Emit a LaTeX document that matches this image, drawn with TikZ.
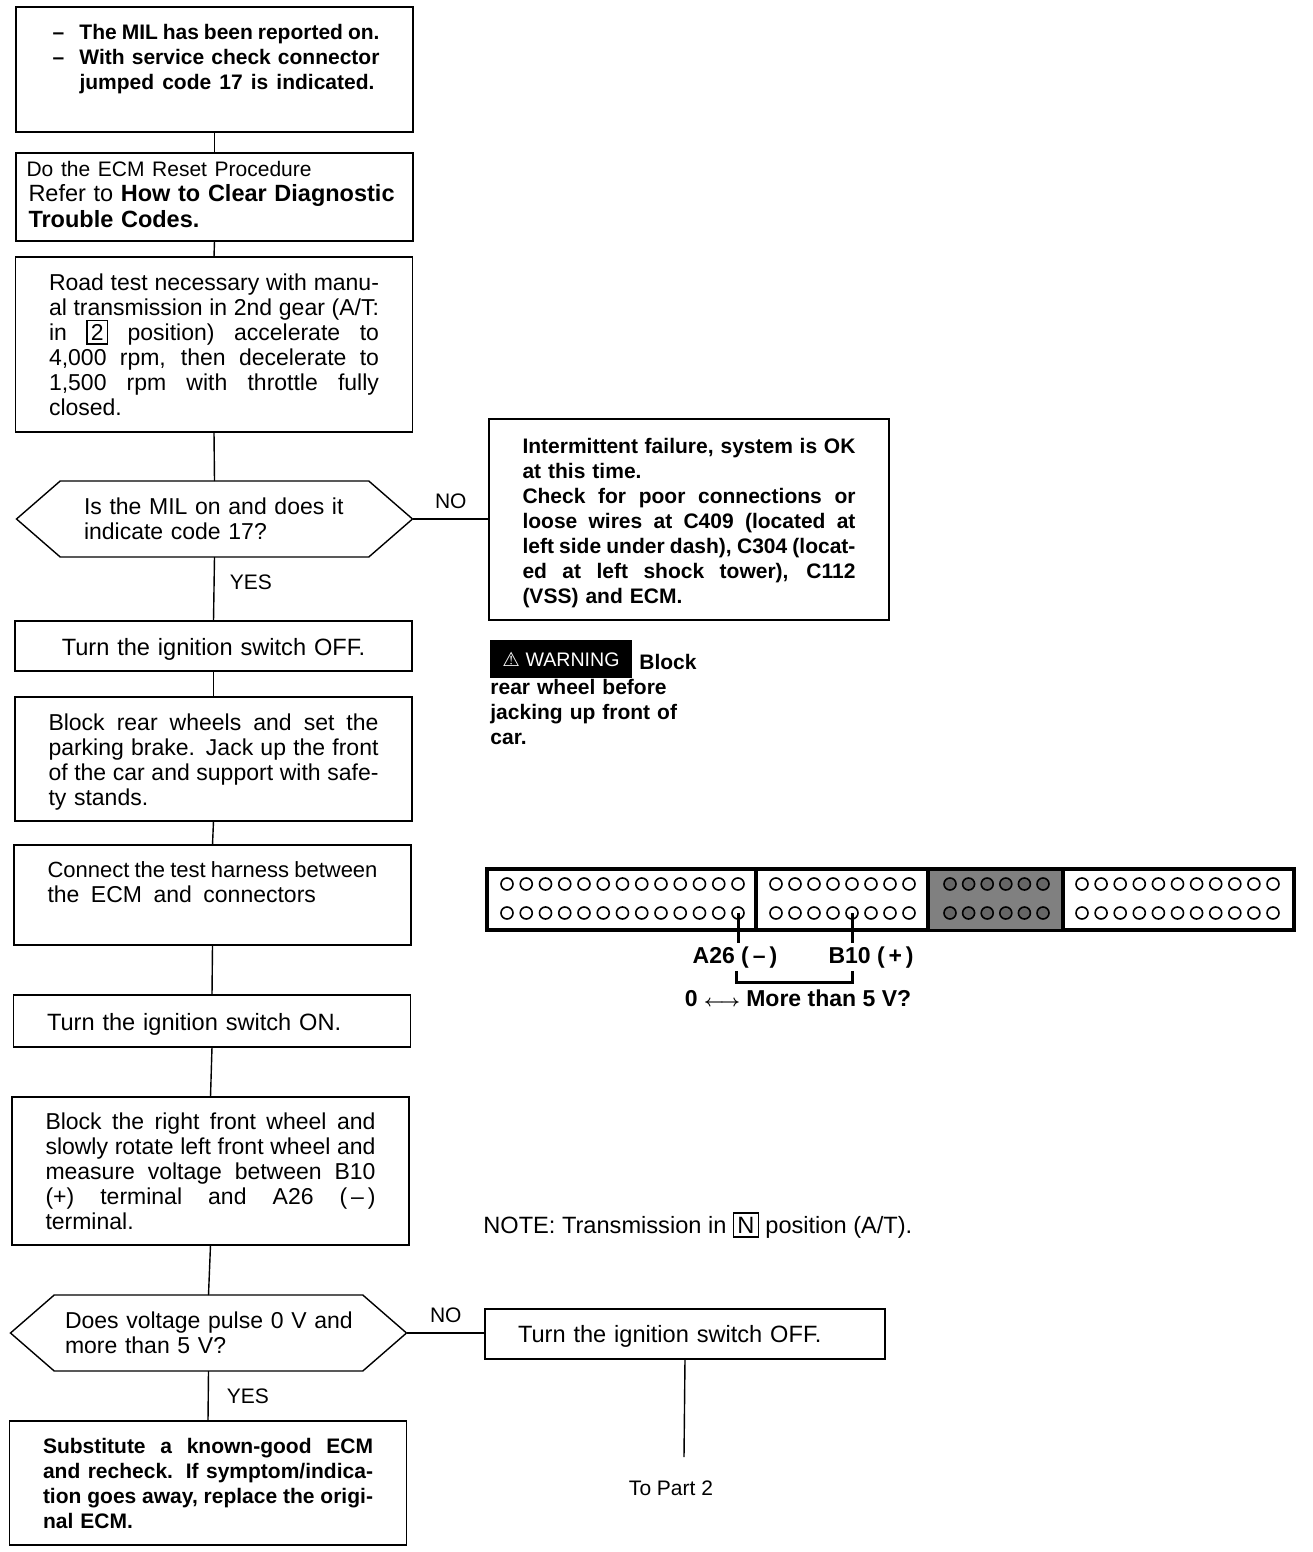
\documentclass[tikz,border=0pt]{standalone}
\usepackage{fontspec}
\setmainfont{Liberation Sans}
\newfontfamily\symfont{DejaVu Sans}
\usetikzlibrary{shapes.symbols, positioning, calc}

% one justified line of a box, filling its text width
\newcommand{\fitline}[2][\hsize]{\leavevmode\hbox to#1{\spaceskip=0pt\xspaceskip=0pt #2}\\}
\newcommand{\gearbox}[1]{\raisebox{0pt}[0pt][0pt]{\setlength{\fboxsep}{1.6pt}\setlength{\fboxrule}{0.6pt}\fbox{#1}}}
% pushes the text of a box up by half its length
\newcommand{\lift}[1]{\rule[-#1]{0pt}{#1}}
% pushes it down, by making the first line taller
\newcommand{\drop}[1]{\rule{0pt}{#1}}

\begin{document}
\begin{tikzpicture}[
    x=0.5pt, y=-0.5pt,
    every node/.style={font=\fontsize{11.5}{12.5}\selectfont},
    stepbox/.style={rectangle, draw=black, line width=0.7pt, outer sep=0pt, inner ysep=0pt, inner xsep=0pt, minimum width=198.5pt, text width=165pt, align=left},
    choice/.style={signal, signal to=west and east, signal pointer angle=82, draw=black, line width=0.7pt, outer sep=0pt, inner sep=0pt, minimum width=198pt, minimum height=38pt, align=left},
    link/.style={draw=black, line width=0.7pt},
    answer/.style={inner sep=0pt, font=\fontsize{10.5}{12.5}\selectfont},
    hole/.style={circle, draw=black, line width=0.8pt, fill=white, inner sep=0pt, minimum size=6pt},
    darkhole/.style={hole, fill=black!60},
    bold/.style={font=\fontsize{10.5}{12.5}\selectfont\bfseries},
    boldlab/.style={inner sep=0pt, font=\fontsize{11.5}{12.5}\selectfont\bfseries},
    wide/.style={font=\fontsize{11.8}{12.5}\selectfont}
]
\useasboundingbox (0,0) rectangle (1312,1552);

% Left column
\node (b1) [stepbox, bold, minimum height=62.5pt] at (214.5,69.5) {\hspace*{1.5pt}\makebox[13.5pt][l]{--}\fitline[150pt]{The MIL has been reported on.}\hspace*{1.5pt}\makebox[13.5pt][l]{--}\fitline[150pt]{With service check connector}\hspace*{15pt}\fitline[147.5pt]{jumped code 17 is indicated.}\mbox{}};
\node (b2) [stepbox, text width=188pt, minimum height=44pt, below=10.5pt of b1] {{\fontsize{10.5}{12.5}\selectfont Do the ECM Reset Procedure}\\\hspace*{1pt}{\fontsize{11.75}{13}\selectfont Refer to \textbf{How to Clear Diagnostic}}\\[0.5pt]\hspace*{1pt}{\fontsize{11.75}{13}\selectfont\textbf{Trouble Codes.}}\lift{3pt}};
\node (b3) [stepbox, minimum height=87.5pt, below=8pt of b2, xshift=-0.25pt] {\fitline{Road test necessary with manu-}\fitline{al transmission in 2nd gear (A/T:}\fitline{in \gearbox{2} position) accelerate to}\fitline{4,000 rpm, then decelerate to}\fitline{1,500 rpm with throttle fully}\mbox{closed.}};
\node (d1) [choice, text width=130.5pt, below=24.5pt of b3, xshift=0.25pt] {Is the MIL on and does it\\indicate code 17?};
\node (b4) [stepbox, wide, minimum height=25pt, below=32pt of d1, xshift=-0.5pt, align=center] {\drop{12pt}Turn the ignition switch OFF.};
\node (b5) [stepbox, minimum height=62pt, below=13pt of b4] {\drop{11.5pt}\fitline{Block rear wheels and set the}\fitline{parking brake. Jack up the front}\fitline{of the car and support with safe-}\mbox{ty stands.}};
\node (b6) [stepbox, minimum height=50pt, below=12pt of b5, xshift=-0.5pt] {{\fontsize{11}{12.5}\selectfont\fitline{Connect the test harness between}}\mbox{the\enspace ECM\enspace and\enspace connectors}\\\mbox{}};
\node (b7) [stepbox, wide, minimum height=26pt, below=25pt of b6, xshift=-0.25pt] {\drop{11.5pt}Turn the ignition switch ON.};
\node (b8) [stepbox, minimum height=74pt, below=25pt of b7, xshift=-0.75pt] {\fitline{Block the right front wheel and}\fitline{slowly rotate left front wheel and}\fitline{measure voltage between B10}\fitline{(+) terminal and A26 (\,--\,)}\mbox{terminal.}};
\node (d2) [choice, text width=143.5pt, below=25pt of b8, xshift=-1pt] {\mbox{Does voltage pulse 0 V and}\\\mbox{more than 5 V?}};
\node (b9) [stepbox, bold, minimum height=62pt, below=25pt of d2, xshift=-0.25pt] {\fitline{Substitute a known-good ECM}\fitline{and recheck. If symptom/indica-}\fitline{tion goes away, replace the origi-}\mbox{nal ECM.}};

% Right column
\node (fail) [stepbox, bold, minimum width=200pt, minimum height=100.5pt, text width=166.5pt] at (689,519.5) {\drop{11pt}\fitline{Intermittent failure, system is OK}\mbox{at this time.}\\\fitline{Check for poor connections or}\fitline{loose wires at C409 (located at}\fitline{left side under dash), C304 (locat-}\fitline{ed at left shock tower), C112}\mbox{(VSS) and ECM.}};
\node (warnlabel) [fill=black, text=white, inner sep=0pt, minimum width=71pt, minimum height=19pt, font=\fontsize{9.8}{12}\selectfont] at (561,659) {{\symfont\fontsize{9.8}{12}\selectfont ⚠} WARNING};
\node (warntext) [bold, anchor=north west, inner sep=0pt, text width=110pt, align=left] at (490,653.5) {\hspace*{74.5pt}Block\\rear wheel before\\jacking up front of\\car.};

% Connector face
\node (ecm) [rectangle, draw=black, line width=1.7pt, inner sep=0pt, minimum width=403.5pt, minimum height=30.5pt] at (890.5,899.5) {};
\node (shade) [rectangle, fill=black!50, inner sep=0pt, minimum width=67pt, minimum height=29pt] at (995.5,899.5) {};
\draw [link, line width=1.7pt] (756,869) -- (756,930);
\draw [link, line width=1.7pt] (928,869) -- (928,930);
\draw [link, line width=1.7pt] (1063,869) -- (1063,930);
\foreach \i in {0,...,12} {
    \node (ha\i) [hole] at ({507+19.25*\i},884) {};
    \node (la\i) [hole] at ({507+19.25*\i},913) {};
}
\foreach \i in {0,...,7} {
    \node (hb\i) [hole] at ({776+19*\i},884) {};
    \node (lb\i) [hole] at ({776+19*\i},913) {};
}
\foreach \i in {0,...,5} {
    \node (hc\i) [darkhole] at ({950+18.6*\i},884) {};
    \node (lc\i) [darkhole] at ({950+18.6*\i},913) {};
}
\foreach \i in {0,...,10} {
    \node (hd\i) [hole] at ({1082+19.1*\i},884) {};
    \node (ld\i) [hole] at ({1082+19.1*\i},913) {};
}
\node (a26lab) [boldlab] at (735,958) {A26 (\hspace{2pt}--\hspace{2pt})};
\node (b10lab) [boldlab] at (871,958) {B10 (\,+\,)};
\node (pulse) [boldlab] at (798,998) {0 {\fontsize{8}{9}\selectfont\boldmath$\longleftrightarrow$} More than 5 V?};
\coordinate (a26end) at (736,943);
\coordinate (b10end) at (852,943);
\coordinate (bracketa) at (736,971);
\coordinate (bracketb) at (852,971);
\coordinate (bracket) at (794,982);
\draw [link, line width=1.5pt] (la12.center) -- (la12 |- a26end);
\draw [link, line width=1.5pt] (lb4.center) -- (lb4 |- b10end);
\draw [link, line width=1.5pt] (bracketa) -- (bracketa |- bracket) -- (bracketb |- bracket) -- (bracketb);

\node (note) [wide, anchor=west, inner sep=0pt] at (483,1227) {NOTE: Transmission in \gearbox{N} position (A/T).};

\node (off) [stepbox, wide, minimum width=200pt, minimum height=25pt, text width=167pt] at (685,1334) {\drop{10.5pt}Turn the ignition switch OFF.};
\coordinate (offend) at (684,1457);
\node (part2) [inner sep=0pt, font=\fontsize{10.5}{12}\selectfont] at (671,1488) {To Part 2};

% Arrows
\draw [link] (b1.south) -- (b2.north);
\draw [link] (b2.south) -- (b3.north);
\draw [link] (b3.south) -- (d1.north);
\draw [link] (d1.south) -- node[answer, right=7.5pt, pos=0.4] {YES} (b4.north);
\draw [link] (b4.south) -- (b5.north);
\draw [link] (b5.south) -- (b6.north);
\draw [link] (b6.south) -- (b7.north);
\draw [link] (b7.south) -- (b8.north);
\draw [link] (b8.south) -- (d2.north);
\draw [link] (d2.south) -- node[answer, right=9pt, pos=0.5] {YES} (b9.north);
\draw [link] (d1.east) -- node[answer, above=5pt] {NO} (fail.west |- d1.east);
\draw [link] (d2.east) -- node[answer, above=5pt] {NO} (off.west |- d2.east);
\draw [link] (off.south) -- (offend);

\end{tikzpicture}
\end{document}
